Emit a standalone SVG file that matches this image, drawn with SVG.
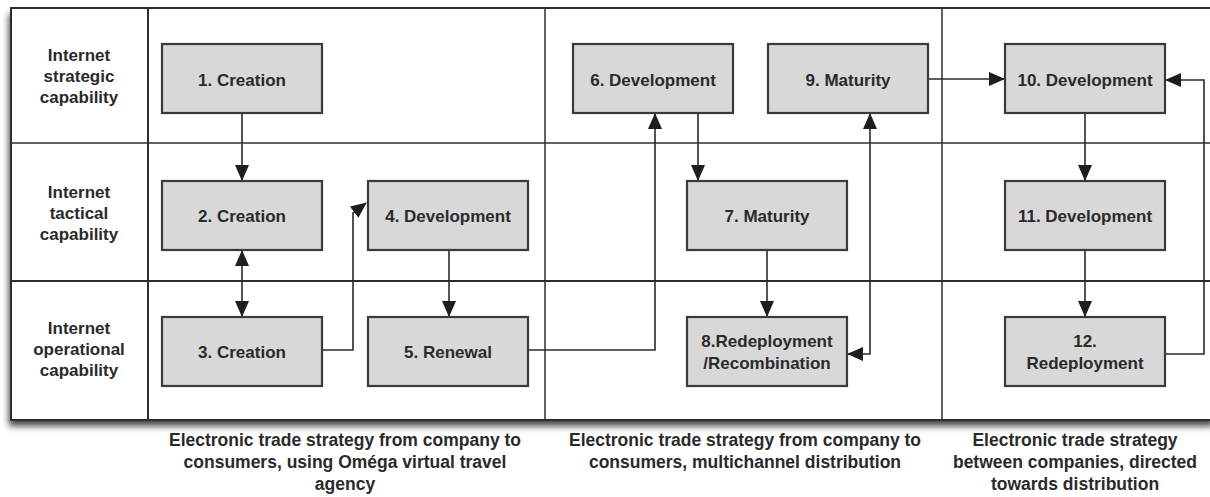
<svg xmlns="http://www.w3.org/2000/svg" width="1210" height="497" viewBox="0 0 1210 497">
<style>
.frame{fill:none;stroke:#2e2e2e;stroke-width:2}
.box{fill:#d8d8d8;stroke:#3a3a3a;stroke-width:2.2}
.t{font-family:"Liberation Sans",Arial,sans-serif;font-weight:bold;font-size:17px;fill:#2a2a2a;text-anchor:middle}
.lbl{font-family:"Liberation Sans",Arial,sans-serif;font-weight:bold;font-size:17px;fill:#2a2a2a;text-anchor:middle}
.cap{font-family:"Liberation Sans",Arial,sans-serif;font-weight:bold;font-size:17.5px;fill:#2a2a2a;text-anchor:middle}
.c{fill:none;stroke:#2a2a2a;stroke-width:1.6;marker-end:url(#ah)}
.d{marker-start:url(#ah)}
</style>
<defs>
<marker id="ah" markerWidth="16" markerHeight="14" refX="15" refY="7" orient="auto-start-reverse" markerUnits="userSpaceOnUse">
<path d="M0,0 L16,7 L0,14 z" fill="#1e1e1e"/>
</marker>
<filter id="sh" x="-5%" y="-5%" width="110%" height="115%">
<feGaussianBlur in="SourceAlpha" stdDeviation="3.5"/>
<feOffset dx="-2" dy="6" result="b"/>
<feComponentTransfer><feFuncA type="linear" slope="0.75"/></feComponentTransfer>
<feMerge><feMergeNode/><feMergeNode in="SourceGraphic"/></feMerge>
</filter>
</defs>
<rect width="1210" height="497" fill="#ffffff"/>
<g id="frame">
<rect x="11" y="8" width="1205" height="412" fill="#ffffff" filter="url(#sh)"/>
<rect x="11" y="8" width="1205" height="412" class="frame"/>
<line x1="148" y1="8" x2="148" y2="420" class="frame"/>
<line x1="545" y1="8" x2="545" y2="420" class="frame" style="stroke-width:1.5"/>
<line x1="942" y1="8" x2="942" y2="420" class="frame" style="stroke-width:1.5"/>
<line x1="11" y1="143" x2="1216" y2="143" class="frame" style="stroke-width:1.5"/>
<line x1="11" y1="281" x2="1216" y2="281" class="frame"/>
</g>
<g id="row-labels">
<text class="lbl" x="79" y="61">Internet</text>
<text class="lbl" x="79" y="82">strategic</text>
<text class="lbl" x="79" y="103">capability</text>
<text class="lbl" x="79" y="198">Internet</text>
<text class="lbl" x="79" y="219">tactical</text>
<text class="lbl" x="79" y="240">capability</text>
<text class="lbl" x="79" y="334">Internet</text>
<text class="lbl" x="79" y="355">operational</text>
<text class="lbl" x="79" y="376">capability</text>
</g>
<g id="connectors">
<path class="c" d="M242,113 V180"/>
<path class="c d" d="M242,251 V316"/>
<path class="c" d="M322,350 H353 V213 L366,203"/>
<path class="c" d="M449,250 V316"/>
<path class="c" d="M528,350 H655 V114"/>
<path class="c" d="M698,113 V180"/>
<path class="c" d="M767,250 V316"/>
<path class="c d" d="M848,354 H870 V114"/>
<path class="c" d="M928,79 H1004"/>
<path class="c" d="M1085,113 V180"/>
<path class="c" d="M1085,250 V316"/>
<path class="c" d="M1165,354 H1204 V80 H1166"/>
</g>
<g id="n1"><rect class="box" x="162" y="44" width="160" height="69"/><text class="t" x="242" y="86">1. Creation</text></g>
<g id="n2"><rect class="box" x="162" y="181" width="160" height="69"/><text class="t" x="242" y="222">2. Creation</text></g>
<g id="n3"><rect class="box" x="162" y="317" width="160" height="69"/><text class="t" x="242" y="358">3. Creation</text></g>
<g id="n4"><rect class="box" x="368" y="181" width="160" height="69"/><text class="t" x="448" y="222">4. Development</text></g>
<g id="n5"><rect class="box" x="368" y="317" width="160" height="69"/><text class="t" x="448" y="358">5. Renewal</text></g>
<g id="n6"><rect class="box" x="573" y="44" width="160" height="69"/><text class="t" x="653" y="86">6. Development</text></g>
<g id="n7"><rect class="box" x="687" y="181" width="160" height="69"/><text class="t" x="767" y="222">7. Maturity</text></g>
<g id="n8"><rect class="box" x="687" y="317" width="160" height="69"/><text class="t" x="767" y="347">8.Redeployment</text><text class="t" x="767" y="369">/Recombination</text></g>
<g id="n9"><rect class="box" x="768" y="44" width="160" height="69"/><text class="t" x="848" y="86">9. Maturity</text></g>
<g id="n10"><rect class="box" x="1005" y="44" width="160" height="69"/><text class="t" x="1085" y="86">10. Development</text></g>
<g id="n11"><rect class="box" x="1005" y="181" width="160" height="69"/><text class="t" x="1085" y="222">11. Development</text></g>
<g id="n12"><rect class="box" x="1005" y="317" width="160" height="69"/><text class="t" x="1085" y="347">12.</text><text class="t" x="1085" y="369">Redeployment</text></g>
<g id="captions">
<text class="cap" x="345" y="446">Electronic trade strategy from company to</text>
<text class="cap" x="345" y="468">consumers, using Oméga virtual travel</text>
<text class="cap" x="345" y="490">agency</text>
<text class="cap" x="745" y="446">Electronic trade strategy from company to</text>
<text class="cap" x="745" y="468">consumers, multichannel distribution</text>
<text class="cap" x="1075" y="446">Electronic trade strategy</text>
<text class="cap" x="1075" y="468">between companies, directed</text>
<text class="cap" x="1075" y="490">towards distribution</text>
</g>
</svg>
